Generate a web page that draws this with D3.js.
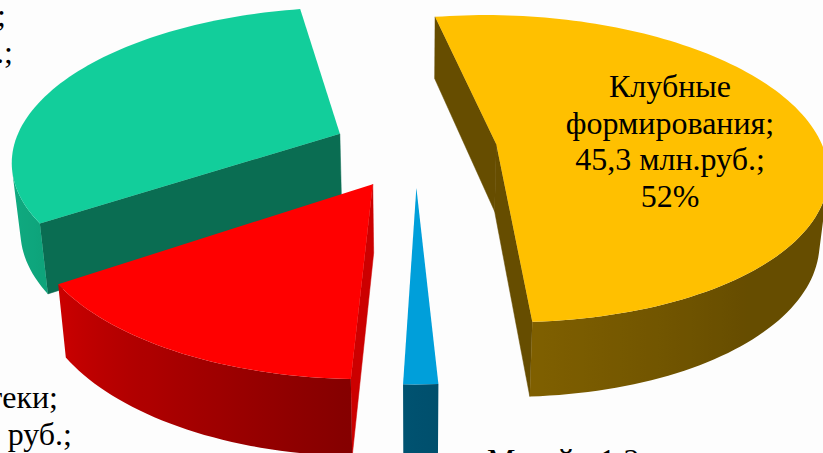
<!DOCTYPE html>
<html><head><meta charset="utf-8">
<style>html,body{margin:0;padding:0;background:#fdfdfd;overflow:hidden}svg{display:block}text{font-family:"Liberation Serif",serif;font-size:32px;fill:#000}</style>
<script src="https://cdn.jsdelivr.net/npm/d3@7"></script></head><body><div id="c"></div>
<script>
const categories = ["Клубные формирования","Музей","Библиотеки","Дома культуры"];
const values = [45.3, 1.2, 13.1, 27.5];
const colors = ["#FFC000","#009FDA","#FF0000","#12CE9B"];
const explode = [0.25, 0.25, 0.26, 0.255];
const radialShade = [0.4, 0.53, 0.8, 0.53];
const labelLines = [
  {lines:["Клубные","формирования;","45,3 млн.руб.;","52%"], xs:[670,670,670,670], y:97, anchor:"middle"},
  {lines:["Музей;\u20021,2","млн.руб.; 1%"], xs:[487,487], y:471, anchor:"start"},
  {lines:["Библиотеки;","13,1 млн. руб.;"], xs:[58,72], y:408, anchor:"end"},
  {lines:["Дома культуры;","27,5 млн.руб.;"], xs:[6,13], y:26, anchor:"end"}
];
const W=823,H=453;
const view={cx:415.5,f:327,fb:320,g:0.16,cyTop:148.5,kTop:151,cyBot:215.8,kBot:157.5};
const startDeg=-10.3;
const rad=d=>d*Math.PI/180;
const wallShade=d3.scaleLinear().domain([100,140,178,237,290]).range([.4,.4,.5,.8,.9]).clamp(true);
const svg=d3.select("#c").append("svg").attr("width",W).attr("height",H);
const defs=svg.append("defs");
function proj(X,Y,bottom){
  const w=1+view.g*Y;
  return bottom?[view.cx+view.fb*X/w,view.cyBot-view.kBot*Y/w]:[view.cx+view.f*X/w,view.cyTop-view.kTop*Y/w];
}
const pie=d3.pie().value(d=>d).sort(null).startAngle(rad(startDeg)).endAngle(rad(startDeg+360));
const arcs=pie(values);
const line=d3.line();
function shade(c,k){const r=d3.rgb(c);return d3.rgb(r.r*k,r.g*k,r.b*k).formatRgb();}
function area(p){let s=0;p.forEach((a,i)=>{const b=p[(i+1)%p.length];s+=a[0]*b[1]-b[0]*a[1];});return s;}
function wall(g,a,b,ab,bb,col){
  const q=[a,b,bb,ab];
  if(area(q)<0) g.append("path").attr("d",line(q)+"Z").attr("fill",col).attr("stroke",col).attr("stroke-width",.5);
}
const order=[3,2,1,0];
order.forEach(i=>{
  const d=arcs[i],mid=(d.startAngle+d.endAngle)/2,e=explode[i];
  const ox=e*Math.sin(mid),oy=e*Math.cos(mid);
  const steps=Math.max(2,Math.round((d.endAngle-d.startAngle)/rad(1.5)));
  const ts=d3.range(steps+1).map(s=>d.startAngle+(d.endAngle-d.startAngle)*s/steps);
  const rim=ts.map(t=>[ox+Math.sin(t),oy+Math.cos(t)]);
  const top=rim.map(p=>proj(p[0],p[1],false)),bot=rim.map(p=>proj(p[0],p[1],true));
  const at=proj(ox,oy,false),ab=proj(ox,oy,true);
  const g=svg.append("g");
  const rc=shade(colors[i],radialShade[i]);
  wall(g,at,top[0],ab,bot[0],rc);
  wall(g,top[steps],at,bot[steps],ab,rc);
  const vis=d3.range(steps).filter(s=>area([top[s],top[s+1],bot[s+1],bot[s]])<0);
  if(vis.length){
    const s0=vis[0],s1=vis[vis.length-1]+1,idx=d3.range(s0,s1+1);
    const xs=idx.map(s=>top[s][0]),x0=d3.min(xs),x1=d3.max(xs);
    const frac=d3.scaleLinear().domain([x0,x1]).range([0,100]);
    const grad=defs.append("linearGradient").attr("id","wall"+i).attr("gradientUnits","userSpaceOnUse")
      .attr("x1",x0).attr("x2",x1).attr("y1",0).attr("y2",0);
    idx.map(s=>({o:frac(top[s][0]),c:shade(colors[i],wallShade((ts[s]*180/Math.PI+360)%360))}))
      .sort((a,b)=>a.o-b.o)
      .forEach(st=>grad.append("stop").attr("offset",st.o+"%").attr("stop-color",st.c));
    const poly=[...idx.map(s=>top[s]),...idx.slice().reverse().map(s=>bot[s])];
    g.append("path").attr("d",line(poly)+"Z").attr("fill","url(#wall"+i+")");
  }
  g.append("path").attr("d",line([at,...top])+"Z").attr("fill",colors[i]);
});
labelLines.forEach(l=>{
  const t=svg.append("text").attr("text-anchor",l.anchor);
  l.lines.forEach((s,j)=>t.append("tspan").attr("x",l.xs[j]).attr("y",l.y+j*36.7).text(s));
});
</script></body></html>
